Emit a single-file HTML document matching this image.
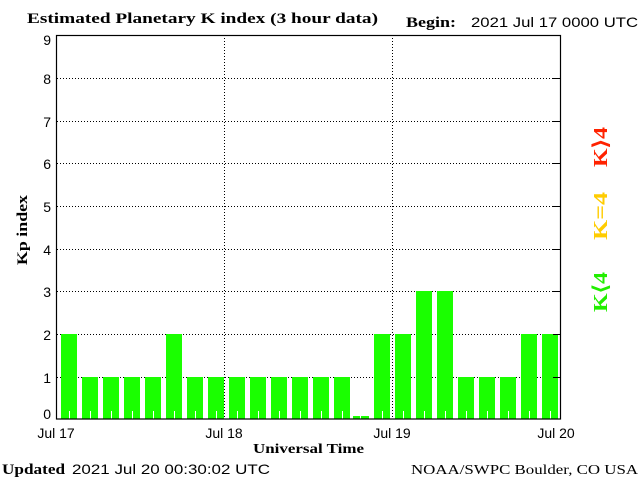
<!DOCTYPE html>
<html><head><style>
body{margin:0;background:#fff;width:640px;height:480px;overflow:hidden}
text{font-family:"Liberation Sans",sans-serif}
text.s{font-family:"Liberation Serif",serif;font-weight:bold}
</style></head><body>
<svg width="640" height="480" xmlns="http://www.w3.org/2000/svg">
<text x="27" y="23" class="s" font-size="15" textLength="351" lengthAdjust="spacingAndGlyphs">Estimated Planetary K index (3 hour data)</text>
<text x="406" y="27" class="s" font-size="15" textLength="50" lengthAdjust="spacingAndGlyphs">Begin:</text>
<text x="471" y="27" font-size="14" textLength="167" lengthAdjust="spacingAndGlyphs">2021 Jul 17 0000 UTC</text>
<g stroke="#000" stroke-dasharray="1,2" stroke-width="1">
<line x1="57" x2="560" y1="78.5" y2="78.5"/><line x1="57" x2="560" y1="121.5" y2="121.5"/>
<line x1="57" x2="560" y1="163.5" y2="163.5"/><line x1="57" x2="560" y1="206.5" y2="206.5"/>
<line x1="57" x2="560" y1="249.5" y2="249.5"/><line x1="57" x2="560" y1="291.5" y2="291.5"/>
<line x1="57" x2="560" y1="334.5" y2="334.5"/><line x1="57" x2="560" y1="377.5" y2="377.5"/>
<line x1="224.5" x2="224.5" y1="35" y2="419"/><line x1="392.5" x2="392.5" y1="35" y2="419"/>
</g>
<g fill="#1aff00">
<rect x="61" y="334" width="16" height="85"/><rect x="82" y="377" width="16" height="42"/>
<rect x="103" y="377" width="16" height="42"/><rect x="124" y="377" width="16" height="42"/>
<rect x="145" y="377" width="16" height="42"/><rect x="166" y="334" width="16" height="85"/>
<rect x="187" y="377" width="16" height="42"/><rect x="208" y="377" width="16" height="42"/>
<rect x="229" y="377" width="16" height="42"/><rect x="250" y="377" width="16" height="42"/>
<rect x="271" y="377" width="16" height="42"/><rect x="292" y="377" width="16" height="42"/>
<rect x="313" y="377" width="16" height="42"/><rect x="334" y="377" width="16" height="42"/>
<rect x="353" y="416" width="16" height="3"/><rect x="374" y="334" width="16" height="85"/>
<rect x="395" y="334" width="16" height="85"/><rect x="416" y="291" width="16" height="128"/>
<rect x="437" y="291" width="16" height="128"/><rect x="458" y="377" width="16" height="42"/>
<rect x="479" y="377" width="16" height="42"/><rect x="500" y="377" width="16" height="42"/>
<rect x="521" y="334" width="16" height="85"/><rect x="542" y="334" width="16" height="85"/>
</g>
<g stroke="#fff" stroke-width="1">
<line x1="69.5" x2="69.5" y1="411" y2="419"/><line x1="90.5" x2="90.5" y1="411" y2="419"/>
<line x1="111.5" x2="111.5" y1="411" y2="419"/><line x1="132.5" x2="132.5" y1="411" y2="419"/>
<line x1="153.5" x2="153.5" y1="411" y2="419"/><line x1="174.5" x2="174.5" y1="411" y2="419"/>
<line x1="195.5" x2="195.5" y1="411" y2="419"/><line x1="216.5" x2="216.5" y1="411" y2="419"/>
<line x1="237.5" x2="237.5" y1="411" y2="419"/><line x1="258.5" x2="258.5" y1="411" y2="419"/>
<line x1="279.5" x2="279.5" y1="411" y2="419"/><line x1="300.5" x2="300.5" y1="411" y2="419"/>
<line x1="321.5" x2="321.5" y1="411" y2="419"/><line x1="342.5" x2="342.5" y1="411" y2="419"/>
<line x1="360.5" x2="360.5" y1="411" y2="419"/><line x1="382.5" x2="382.5" y1="411" y2="419"/>
<line x1="403.5" x2="403.5" y1="411" y2="419"/><line x1="424.5" x2="424.5" y1="411" y2="419"/>
<line x1="445.5" x2="445.5" y1="411" y2="419"/><line x1="466.5" x2="466.5" y1="411" y2="419"/>
<line x1="487.5" x2="487.5" y1="411" y2="419"/><line x1="508.5" x2="508.5" y1="411" y2="419"/>
<line x1="529.5" x2="529.5" y1="411" y2="419"/><line x1="550.5" x2="550.5" y1="411" y2="419"/>
</g>
<rect x="56.5" y="35.5" width="504" height="383.5" fill="none" stroke="#000" stroke-width="1.2"/>
<g stroke="#000">
<line x1="553" x2="560" y1="78.5" y2="78.5"/><line x1="553" x2="560" y1="121.5" y2="121.5"/>
<line x1="553" x2="560" y1="163.5" y2="163.5"/><line x1="553" x2="560" y1="206.5" y2="206.5"/>
<line x1="553" x2="560" y1="249.5" y2="249.5"/><line x1="553" x2="560" y1="291.5" y2="291.5"/>
<line x1="553" x2="560" y1="334.5" y2="334.5"/><line x1="553" x2="560" y1="377.5" y2="377.5"/>
</g>
<g font-size="14" text-anchor="end">
<text x="51" y="45">9</text><text x="51" y="84">8</text><text x="51" y="127">7</text>
<text x="51" y="169">6</text><text x="51" y="212">5</text><text x="51" y="255">4</text>
<text x="51" y="297">3</text><text x="51" y="340">2</text><text x="51" y="383">1</text>
<text x="51" y="419">0</text>
</g>
<g font-size="14" text-anchor="middle">
<text x="56" y="438">Jul 17</text><text x="224" y="438">Jul 18</text>
<text x="392" y="438">Jul 19</text><text x="556" y="438">Jul 20</text>
</g>
<text x="253" y="453" class="s" font-size="14" textLength="111" lengthAdjust="spacingAndGlyphs">Universal Time</text>
<text transform="translate(27,265) rotate(-90)" class="s" font-size="15" textLength="70" lengthAdjust="spacingAndGlyphs">Kp index</text>
<text transform="translate(607,167) rotate(-90)" class="s" font-size="20" fill="#ff2200" textLength="40" lengthAdjust="spacingAndGlyphs">K⟩4</text>
<text transform="translate(607,240) rotate(-90)" class="s" font-size="20" fill="#ffcc00" textLength="48" lengthAdjust="spacingAndGlyphs">K=4</text>
<text transform="translate(607,312) rotate(-90)" class="s" font-size="20" fill="#22ee00" textLength="40" lengthAdjust="spacingAndGlyphs">K⟨4</text>
<text x="2" y="474" class="s" font-size="15" textLength="63" lengthAdjust="spacingAndGlyphs">Updated</text>
<text x="72" y="474" font-size="14" textLength="198" lengthAdjust="spacingAndGlyphs">2021 Jul 20 00:30:02 UTC</text>
<text x="411" y="474" class="s" font-size="14" textLength="227" lengthAdjust="spacingAndGlyphs" style="font-weight:normal">NOAA/SWPC Boulder, CO USA</text>
</svg>
</body></html>
